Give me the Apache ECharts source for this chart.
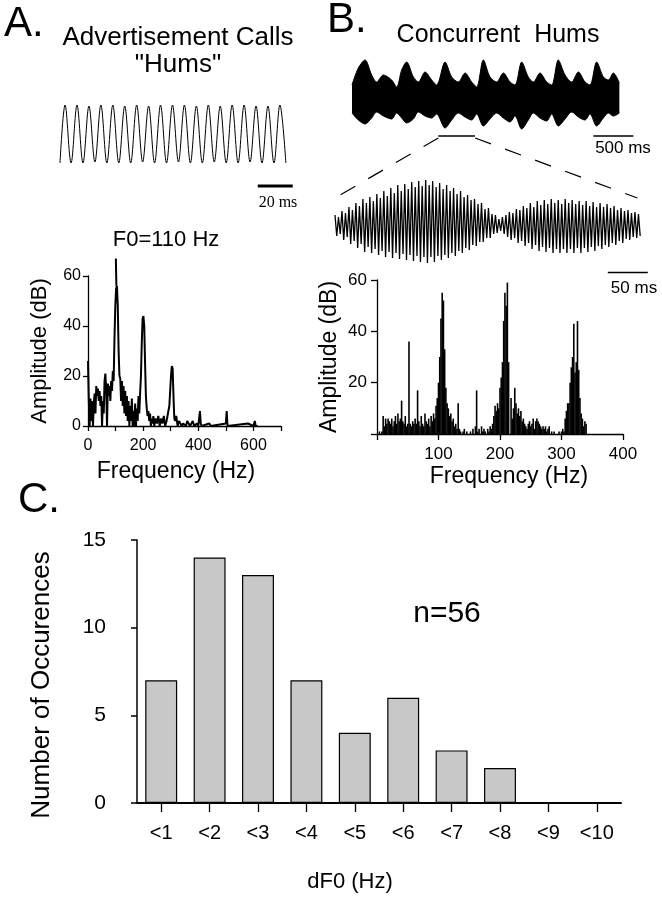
<!DOCTYPE html>
<html><head><meta charset="utf-8">
<script src="https://cdn.jsdelivr.net/npm/echarts@6/dist/echarts.min.js"></script>
<style>html,body{margin:0;padding:0;background:#fff}#c{width:662px;height:900px}</style>
</head><body><div id="c"></div>
<script>
// ---------- DATA ----------
// A: advertisement call waveform (peak / trough heights, px-units), time step in ms
const humPeaks   = [29,29,28,29,29,28,29,28,29,29,29,28,29,28,29,29,28,28,29];
const humTroughs = [-29,-29,-28,-29,-29,-29,-28,-29,-29,-28,-29,-29,-28,-29,-29,-28,-29,-29,-29];
const humFirstPeakMs = 2.9, humPeriodMs = 6.82;
const humScaleBar = [113, 133];   // 20 ms

// A: spectrum [Hz, dB]
const specA = [[0,26],[3,10],[6,0],[9,11],[12,2],[15,10],[18,0],[21,9],[24,13],[27,5],[30,16],[33,12],[36,15],[39,10],[42,14],[45,8],[48,12],[51,0],[54,10],[57,5],[60,18],[63,21],[66,14],[69,0],[72,17],[75,12],[78,16],[81,10],[84,18],[87,14],[90,22],[93,18],[96,35],[99,48],[102,55],[105,56],[108,48],[111,30],[114,20],[117,19],[120,10],[123,18],[126,8],[129,16],[132,5],[135,14],[138,4],[141,12],[144,2],[147,10],[150,0],[153,8],[156,2],[159,11],[162,0],[165,6],[168,0],[171,9],[174,0],[177,7],[180,2],[183,12],[186,5],[189,13],[192,20],[195,33],[198,43],[201,44],[204,40],[207,25],[210,12],[213,7],[216,4],[219,6],[222,2],[225,5],[228,0],[231,3],[234,1],[237,4],[240,0],[245,3],[250,1],[255,4],[260,0],[265,3],[270,1],[275,4],[280,0],[285,2],[290,5],[295,8],[298,14],[301,20],[304,24],[307,23],[310,12],[313,3],[316,2],[320,4],[325,0],[330,2],[340,0],[345,1],[355,0],[360,2],[370,0],[380,2],[385,0],[395,1],[400,0],[403,3],[406,6],[409,1],[412,0],[440,1],[445,0],[500,1],[503,6],[506,0],[580,1],[600,0],[605,2],[608,0],[615,0]];
const f0Marker = [[101,67],[103,56]];

// B: concurrent hums envelope [ms, amplitude]
const envUpper = [[0,13],[79,30],[163,38],[246,23],[308,16],[392,23],[496,18],[558,11],[621,28],[683,36],[767,21],[829,16],[913,26],[996,18],[1058,13],[1163,36],[1246,21],[1329,16],[1413,25],[1496,16],[1558,11],[1642,38],[1725,21],[1808,16],[1892,25],[1975,16],[2038,13],[2121,36],[2204,21],[2267,16],[2350,25],[2433,16],[2496,13],[2579,38],[2663,23],[2746,16],[2829,26],[2913,16],[2975,13],[3058,36],[3142,21],[3204,18],[3267,25],[3342,15]];
const envLower = [[0,-15],[79,-22],[163,-26],[246,-20],[308,-14],[392,-18],[496,-21],[558,-15],[621,-20],[683,-25],[767,-21],[829,-14],[913,-18],[996,-20],[1058,-16],[1163,-30],[1246,-22],[1329,-15],[1413,-19],[1496,-22],[1558,-16],[1642,-28],[1725,-21],[1808,-15],[1892,-20],[1975,-24],[2038,-18],[2121,-31],[2204,-22],[2267,-15],[2350,-20],[2433,-23],[2496,-16],[2579,-28],[2663,-21],[2746,-14],[2829,-19],[2913,-22],[2975,-16],[3058,-28],[3142,-20],[3204,-15],[3267,-18],[3342,-15]];
const zoomSegmentMs = [1079, 1538];
const envScaleBar = [3017, 3517];  // 500 ms

// B: expanded waveform, per-cycle peak and trough heights
const beatPeaks = [10,8,14,12,18,15,22,19,26,22, 28,24,31,27,34,29,37,32,40,34, 41,36,43,38,44,39,45,40,44,38, 42,36,40,34,37,31,34,28,30,25, 26,21,22,16,17,11,10,6,8,10, 13,12,16,15,19,17,22,18,24,20, 25,21,26,22,25,21,26,22,25,21, 24,20,24,19,23,18,22,18,21,17, 19,15,17,14,15,12,13,11];
const beatTroughs = [-11,-9,-15,-12,-19,-16,-23,-19,-27,-22, -28,-24,-30,-26,-32,-27,-33,-28,-34,-29, -35,-30,-36,-31,-37,-32,-38,-32,-37,-31, -35,-30,-33,-28,-31,-26,-28,-23,-25,-20, -21,-17,-17,-13,-13,-9,-8,-6,-9,-12, -15,-13,-18,-16,-21,-18,-24,-20,-26,-22, -27,-23,-28,-24,-28,-24,-28,-24,-28,-23, -28,-23,-27,-22,-26,-21,-24,-20,-22,-18, -20,-16,-18,-14,-15,-12,-13,-11];
const beatCycleMs = 4.36;
const beatScaleBar = [341, 391];  // 50 ms

// B: spectrum, 2 Hz bins starting at 0 Hz (dB)
const specBStepHz = 2;
const specB = [0,0,1,0,1, 7,3,6,4,6,5, 4,6,3,5,7, 4,8,5,6,13, 5,4,7,3,4, 36,4,3,5,4, 6,4,17,5,3, 7,4,3,8,5, 4,6,3,7,5, 8,6,11,14,20, 30,45,55,52,33, 18,12,10,7,8, 5,6,3,4,2, 12,2,1,0,1, 2,0,1,0,0, 1,0,2,0,3, 17,1,2,0,3, 1,2,1,0,2, 1,3,2,4,7, 11,9,12,10,18, 22,28,44,55,50, 59,28,0,14,6, 10,18,12,8,10, 7,9,5,6,4, 3,2,4,5,3, 4,6,2,5,6, 5,4,3,2,3, 2,3,1,2,3, 0,1,0,1,0, 0,0,1,0,1, 2,1,6,9,12, 12,20,26,30,43, 24,28,44,25,14, 8,6,3,5,4];

// C: histogram
const dF0Cats = ['<1','<2','<3','<4','<5','<6','<7','<8','<9','<10'];
const occurrences = [7,14,13,7,4,6,3,2,0,0];
const nTotal = 56;

// ---------- BUILD ----------
const SANS = '"Liberation Sans", Arial, Helvetica, sans-serif';
const SERIF = '"Liberation Serif", "Times New Roman", serif';
const BLACK = '#000';

const humWave = [[0, humTroughs[0]]];
for (let k = 0; k < humPeaks.length; k++) {
  humWave.push([humFirstPeakMs + k * humPeriodMs, humPeaks[k]]);
  humWave.push([humFirstPeakMs + k * humPeriodMs + humPeriodMs / 2, humTroughs[k]]);
}
const beatWave = [];
for (let k = 0; k < beatPeaks.length; k++) {
  beatWave.push([k * beatCycleMs, beatPeaks[k]]);
  beatWave.push([k * beatCycleMs + beatCycleMs / 2, beatTroughs[k]]);
}
const specBData = specB.map((v, i) => [i * specBStepHz, v]);

const hidden = (gi, min, max) => ({gridIndex: gi, type: 'value', min, max, show: false});

function valAxis(gi, min, max, interval, opts) {
  return Object.assign({
    gridIndex: gi, type: 'value', min, max, interval,
    axisLine: {show: true, onZero: false, lineStyle: {color: BLACK, width: 1.3}},
    axisTick: {show: true, length: 5, lineStyle: {color: BLACK, width: 1.3}},
    splitLine: {show: false},
    axisLabel: {color: BLACK, fontFamily: SANS, fontSize: 16}
  }, opts || {});
}

function txt(id, text, x, y, size, opts) {
  opts = opts || {};
  return {
    id, type: 'text', x, y, rotation: opts.rot || 0, silent: true,
    style: {text, fill: BLACK, font: (opts.weight || 'normal') + ' ' + size + 'px ' + (opts.family || SANS),
      textAlign: opts.align || 'center', textVerticalAlign: 'middle'}
  };
}

const line = (xi, yi, data, w, extra) => Object.assign({
  type: 'line', xAxisIndex: xi, yAxisIndex: yi, data, symbol: 'none', silent: true,
  animation: false, lineStyle: {color: BLACK, width: w}
}, extra || {});

const option = {
  animation: false,
  backgroundColor: '#fff',
  grid: [
    {left: 60, top: 100, width: 245, height: 90},    // 0 A waveform
    {left: 88, top: 276, width: 193, height: 150},   // 1 A spectrum
    {left: 352, top: 58, width: 288, height: 80},    // 2 B envelope
    {left: 335, top: 175, width: 320, height: 100},  // 3 B expanded
    {left: 377, top: 280, width: 246, height: 154},  // 4 B spectrum
    {left: 137, top: 540, width: 484, height: 263}   // 5 C histogram
  ],
  xAxis: [
    hidden(0, 0, 140),
    valAxis(1, 0, 700, 100, {axisLabel: {color: BLACK, fontFamily: SANS, fontSize: 16, margin: 12,
      formatter: v => (v % 200 === 0 ? String(v) : '')}}),
    hidden(2, 0, 3600),
    hidden(3, 0, 400),
    valAxis(4, 0, 400, 100, {axisTick: {show: true, length: 6, lineStyle: {color: BLACK, width: 1.3}},
      axisLabel: {color: BLACK, fontFamily: SANS, fontSize: 17, margin: 12,
      formatter: v => (v === 0 ? '' : String(v))}}),
    {gridIndex: 5, type: 'category', data: dF0Cats, boundaryGap: true,
      axisLine: {show: true, lineStyle: {color: BLACK, width: 2}},
      axisTick: {show: true, alignWithLabel: true, length: 9, lineStyle: {color: BLACK, width: 1.3}},
      axisLabel: {color: BLACK, fontFamily: SANS, fontSize: 20, margin: 20}}
  ],
  yAxis: [
    hidden(0, -56, 34),
    valAxis(1, 0, 60, 20, {axisLabel: {color: BLACK, fontFamily: SANS, fontSize: 16, margin: 7}}),
    hidden(2, -40, 40),
    hidden(3, -50, 50),
    valAxis(4, 0, 60, 20, {axisTick: {show: true, length: 6, lineStyle: {color: BLACK, width: 1.3}},
      axisLabel: {color: BLACK, fontFamily: SANS, fontSize: 17, margin: 10,
      formatter: v => (v === 0 ? '' : String(v))}}),
    valAxis(5, 0, 15, 5, {axisLine: {show: true, lineStyle: {color: BLACK, width: 1.5}},
      axisTick: {show: true, length: 6, lineStyle: {color: BLACK, width: 1.5}},
      axisLabel: {color: BLACK, fontFamily: SANS, fontSize: 21, margin: 31}})
  ],
  series: [
    line(0, 0, humWave, 1, {smooth: 0.35}),
    line(0, 0, [[humScaleBar[0], -52], [humScaleBar[1], -52]], 3),
    line(1, 1, specA, 2, {clip: false}),
    line(1, 1, f0Marker, 2, {clip: false}),
    line(2, 2, envUpper, 1, {smooth: 0.3, areaStyle: {color: BLACK, opacity: 1}}),
    line(2, 2, envLower, 1, {smooth: 0.3, areaStyle: {color: BLACK, opacity: 1}}),
    line(2, 2, [[zoomSegmentMs[0], -38], [zoomSegmentMs[1], -38]], 1.5),
    line(2, 2, [[envScaleBar[0], -38], [envScaleBar[1], -38]], 1.5),
    line(3, 3, beatWave, 1.3),
    line(3, 3, [[beatScaleBar[0], -47.5], [beatScaleBar[1], -47.5]], 1.5),
    {type: 'bar', xAxisIndex: 4, yAxisIndex: 4, data: specBData, barWidth: 1.6, silent: true,
      animation: false, itemStyle: {color: BLACK}},
    {type: 'bar', xAxisIndex: 5, yAxisIndex: 5, data: occurrences, barCategoryGap: '34%', silent: true,
      animation: false, itemStyle: {color: '#c8c8c8', borderColor: BLACK, borderWidth: 1.2}}
  ],
  graphic: [
    txt('tA', 'A.', 4, 24, 42, {align: 'left'}),
    txt('tA1', 'Advertisement Calls', 178, 38, 26),
    txt('tA2', '"Hums"', 178, 65, 26),
    txt('tA3', '20 ms', 278, 203, 16, {family: SERIF}),
    txt('tA4', 'F0=110 Hz', 166, 240, 22),
    txt('tA5', 'Amplitude (dB)', 40, 351, 22, {rot: Math.PI / 2}),
    txt('tA6', 'Frequency (Hz)', 176, 472, 23),
    txt('tB', 'B.', 327, 20, 42, {align: 'left'}),
    txt('tB1', 'Concurrent  Hums', 498, 35, 25),
    txt('tB2', '500 ms', 623, 148, 17),
    txt('tB3', '50 ms', 634, 288, 17),
    txt('tB4', 'Amplitude (dB)', 330, 357, 23, {rot: Math.PI / 2}),
    txt('tB5', 'Frequency (Hz)', 509, 477, 23),
    txt('tC', 'C.', 18, 500, 42, {align: 'left'}),
    txt('tC1', 'n=' + nTotal, 447, 614, 30),
    txt('tC2', 'Number of Occurences', 42, 685, 26, {rot: Math.PI / 2}),
    txt('tC3', 'dF0 (Hz)', 350, 882, 22)
  ]
};

const chart = echarts.init(document.getElementById('c'), null, {renderer: 'canvas'});
chart.setOption(option);

// dashed connectors from the zoomed segment to the expanded waveform
const a = chart.convertToPixel({gridIndex: 2}, [zoomSegmentMs[0], -38]);
const b = chart.convertToPixel({gridIndex: 2}, [zoomSegmentMs[1], -38]);
const c = chart.convertToPixel({gridIndex: 3}, [2, 28]);
const d = chart.convertToPixel({gridIndex: 3}, [378, 27]);
const dash = (id, p, q) => ({id, type: 'line', silent: true,
  shape: {x1: p[0], y1: p[1] + 2, x2: q[0], y2: q[1]},
  style: {stroke: BLACK, lineWidth: 1.2, lineDash: [17, 15]}});
chart.setOption({graphic: [dash('dl', a, c), dash('dr', b, d)]});
</script></body></html>
